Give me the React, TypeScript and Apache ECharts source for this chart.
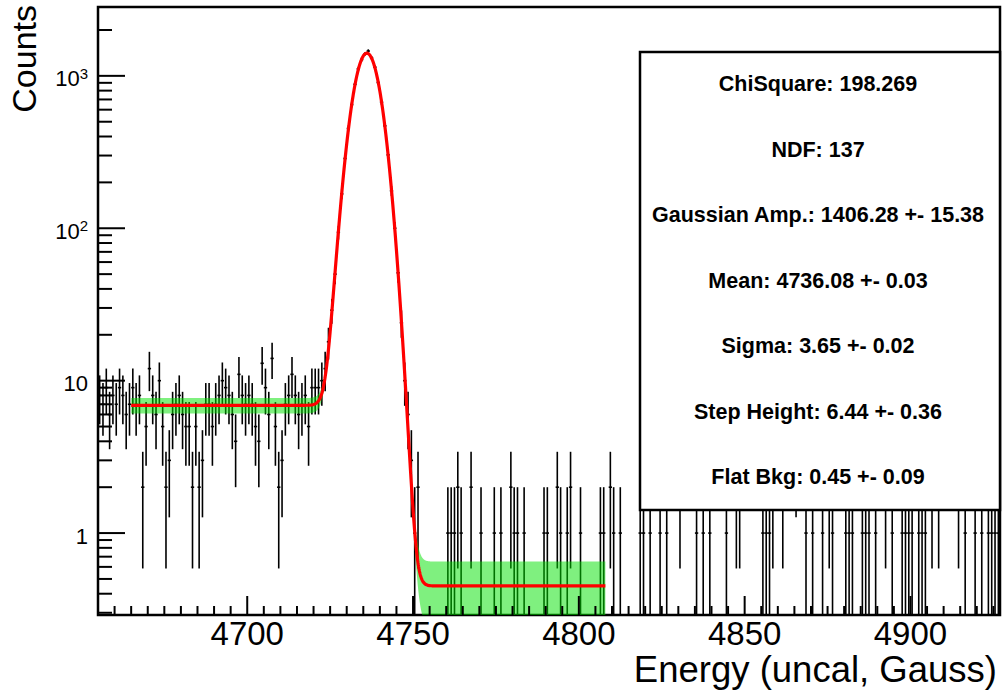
import React, { useEffect, useRef } from "react";
import * as echarts from "echarts";

// ---- Histogram: 1-channel bins starting at 4655 ----
const FIRST_BIN_EDGE = 4655;
const BIN_WIDTH = 1;

// Counts per bin, 4655 – 4720 (low-energy side)
const COUNTS_LOW = [
  8, 7, 9, 6, 8, 7, 9, 8, 6, 7,
  9, 7, 8, 2, 5, 12, 8, 6, 10, 5,
  2, 3, 6, 7, 8, 6, 5, 5, 2, 5,
  2, 3, 7, 7, 5, 7, 8, 10, 9, 8,
  6, 4, 11, 8, 7, 8, 7, 5, 4, 13,
  9, 6, 14, 5, 2, 3, 7, 8, 11, 8,
  6, 7, 8, 5, 9, 9,
];

// Counts per bin, 4721 – 4752 (peak)
const COUNTS_PEAK = [
  9, 10, 12, 18, 29, 50, 94, 168, 287, 452,
  648, 880, 1112, 1279, 1390, 1455, 1312, 1140, 905, 671,
  470, 303, 176, 100, 51, 24, 10, 6, 3, 1,
  2, 0,
];

// Counts per bin, 4753 – 4926 (high-energy side)
const COUNTS_HIGH = [
  0, 0, 0, 0, 0, 0, 0, 1, 1, 1,
  2, 1, 0, 0, 2, 0, 0, 1, 0, 0,
  0, 1, 0, 1, 0, 0, 2, 1, 1, 0,
  1, 0, 0, 0, 0, 0, 1, 1, 0, 0,
  2, 1, 0, 1, 2, 0, 0, 1, 0, 0,
  0, 0, 0, 1, 1, 0, 2, 1, 0, 1,
  0, 0, 0, 0, 0, 1, 1, 0, 1, 0,
  0, 1, 0, 1, 0, 0, 0, 2, 0, 0,
  0, 0, 1, 0, 1, 0, 1, 0, 0, 0,
  0, 1, 0, 0, 2, 2, 0, 0, 0, 0,
  0, 0, 1, 1, 1, 2, 0, 0, 2, 0,
  0, 0, 3, 0, 0, 1, 0, 1, 0, 0,
  1, 0, 2, 1, 0, 0, 0, 1, 1, 1,
  0, 0, 1, 1, 1, 0, 1, 0, 0, 2,
  0, 1, 0, 0, 1, 1, 1, 1, 0, 1,
  1, 1, 0, 2, 0, 2, 0, 0, 0, 0,
  0, 2, 0, 1, 0, 0, 1, 0, 1, 0,
  1, 1, 1, 1,
];

// ---- Fit result (Gaussian + step + flat background) ----
const FIT_LABELS = ["ChiSquare", "NDF", "Gaussian Amp.", "Mean", "Sigma", "Step Height", "Flat Bkg"];
const FIT_VALUES = [198.269, 137, 1406.28, 4736.08, 3.65, 6.44, 0.45];
const FIT_ERRORS = [null, null, 15.38, 0.03, 0.02, 0.36, 0.09];
const FIT_DECIMALS = [3, 0, 2, 2, 2, 2, 2];
const FIT_RANGE = [4665, 4808];
// half-width of the fit confidence band below / above the peak
const BAND_HALF_WIDTH_LOW_SIDE = 0.8;
const BAND_HALF_WIDTH_HIGH_SIDE = 0.2;

// ---- Axes ----
const X_MIN = 4655;
const X_MAX = 4927;
const Y_MIN = 0.29;
const Y_MAX = 2830;
const X_MAJOR_TICKS = [4700, 4750, 4800, 4850, 4900];
const X_MINOR_STEP = 5;
const Y_MAJOR_TICKS = [1, 10, 100, 1000];
const Y_TICK_LABELS = ["1", "10", "{b|10}{s|2}", "{b|10}{s|3}"];

const FONT = '"Liberation Sans", Arial, Helvetica, sans-serif';

function erfc(x: number): number {
  const z = Math.abs(x);
  const t = 1 / (1 + 0.5 * z);
  const r =
    t *
    Math.exp(
      -z * z - 1.26551223 +
        t * (1.00002368 + t * (0.37409196 + t * (0.09678418 + t * (-0.18628806 +
        t * (0.27886807 + t * (-1.13520398 + t * (1.48851587 + t * (-0.82215223 + t * 0.17087277))))))))
    );
  return x >= 0 ? r : 2 - r;
}

const AMP = FIT_VALUES[2];
const MEAN = FIT_VALUES[3];
const SIGMA = FIT_VALUES[4];
const STEP = FIT_VALUES[5];
const BKG = FIT_VALUES[6];

function stepFraction(x: number): number {
  return 0.5 * erfc((x - MEAN) / (Math.SQRT2 * SIGMA));
}

function fitFunction(x: number): number {
  const d = x - MEAN;
  return AMP * Math.exp(-(d * d) / (2 * SIGMA * SIGMA)) + STEP * stepFraction(x) + BKG;
}

function bandHalfWidth(x: number): number {
  return BAND_HALF_WIDTH_HIGH_SIDE + (BAND_HALF_WIDTH_LOW_SIDE - BAND_HALF_WIDTH_HIGH_SIDE) * stepFraction(x);
}

const ALL_COUNTS = [...COUNTS_LOW, ...COUNTS_PEAK, ...COUNTS_HIGH];

export default function App() {
  const ref = useRef<HTMLDivElement | null>(null);

  useEffect(() => {
    if (!ref.current) return;
    const chart = echarts.init(ref.current, null, { renderer: "svg" });

    const clampY = (v: number) => Math.max(v, Y_MIN);

    const binData = ALL_COUNTS.map((n, i) => {
      const center = FIRST_BIN_EDGE + (i + 0.5) * BIN_WIDTH;
      return [center, n, n - Math.sqrt(n), n + Math.sqrt(n)];
    }).filter((d) => d[1] > 0);

    const fitLine: number[][] = [];
    for (let x = FIT_RANGE[0]; x <= FIT_RANGE[1] + 1e-9; x += 0.1) {
      fitLine.push([x, fitFunction(x)]);
    }

    const statsTexts = FIT_LABELS.map((name, i) => {
      const v = FIT_VALUES[i].toFixed(FIT_DECIMALS[i]);
      const e = FIT_ERRORS[i];
      return e === null ? `${name}: ${v}` : `${name}: ${v} +- ${e.toFixed(FIT_DECIMALS[i])}`;
    });

    const boxX = 640;
    const boxY = 52;
    const boxW = 360;
    const boxH = 458;

    const option: any = {
      animation: false,
      backgroundColor: "#ffffff",
      grid: {
        left: 98,
        right: 2,
        top: 7,
        bottom: 75,
        show: true,
        borderColor: "#000",
        borderWidth: 2.5,
        backgroundColor: "transparent",
      },
      xAxis: {
        type: "value",
        min: X_MIN,
        max: X_MAX,
        axisLine: { show: false },
        axisTick: { show: false },
        axisLabel: { show: false },
        splitLine: { show: false },
      },
      yAxis: {
        type: "log",
        logBase: 10,
        min: Y_MIN,
        max: Y_MAX,
        axisLine: { show: false },
        axisTick: { show: false },
        axisLabel: { show: false },
        splitLine: { show: false },
      },
      series: [
        {
          name: "data",
          type: "custom",
          z: 2,
          clip: true,
          data: binData,
          renderItem: (_p: any, api: any) => {
            const xc = api.value(0);
            const n = api.value(1);
            const lo = clampY(api.value(2));
            const hi = api.value(3);
            const a = api.coord([xc, lo]);
            const b = api.coord([xc, hi]);
            const l = api.coord([xc - BIN_WIDTH / 2, n]);
            const r = api.coord([xc + BIN_WIDTH / 2, n]);
            return {
              type: "group",
              children: [
                { type: "line", shape: { x1: a[0], y1: a[1], x2: b[0], y2: b[1] }, style: { stroke: "#000", lineWidth: 1.6 } },
                { type: "line", shape: { x1: l[0], y1: l[1], x2: r[0], y2: r[1] }, style: { stroke: "#000", lineWidth: 1.6 } },
              ],
            };
          },
        },
        {
          name: "band",
          type: "custom",
          z: 3,
          clip: true,
          data: [[FIT_RANGE[0], 1]],
          renderItem: (_p: any, api: any) => {
            const pts: number[][] = [];
            for (let x = FIT_RANGE[0]; x <= FIT_RANGE[1] + 1e-9; x += 0.2) {
              pts.push(api.coord([x, clampY(fitFunction(x) + bandHalfWidth(x))]));
            }
            for (let x = FIT_RANGE[1]; x >= FIT_RANGE[0] - 1e-9; x -= 0.2) {
              pts.push(api.coord([x, clampY(fitFunction(x) - bandHalfWidth(x))]));
            }
            return { type: "polygon", shape: { points: pts }, style: { fill: "rgba(0,225,0,0.5)" } };
          },
        },
        {
          name: "fit",
          type: "line",
          z: 4,
          data: fitLine,
          showSymbol: false,
          clip: true,
          lineStyle: { color: "#ff0000", width: 3.2 },
        },
        {
          name: "ticks",
          type: "custom",
          z: 5,
          data: [[X_MIN, Y_MIN]],
          renderItem: (_p: any, api: any) => {
            const children: any[] = [];
            const origin = api.coord([X_MIN, Y_MIN]);
            for (let v = Math.ceil(X_MIN / X_MINOR_STEP) * X_MINOR_STEP; v <= X_MAX; v += X_MINOR_STEP) {
              const major = X_MAJOR_TICKS.includes(v);
              const px = api.coord([v, Y_MIN])[0];
              children.push({
                type: "line",
                shape: { x1: px, y1: origin[1], x2: px, y2: origin[1] - (major ? 19 : 9) },
                style: { stroke: "#000", lineWidth: 2 },
              });
            }
            for (let d = -1; d <= 3; d++) {
              for (let m = 1; m <= 9; m++) {
                const v = m * Math.pow(10, d);
                if (v < Y_MIN || v > Y_MAX) continue;
                const py = api.coord([X_MIN, v])[1];
                children.push({
                  type: "line",
                  shape: { x1: origin[0], y1: py, x2: origin[0] + (m === 1 ? 27 : 14), y2: py },
                  style: { stroke: "#000", lineWidth: 2 },
                });
              }
            }
            return { type: "group", children };
          },
        },
        {
          name: "tickLabels",
          type: "custom",
          z: 5,
          data: [[X_MIN, Y_MIN]],
          renderItem: (_p: any, api: any) => {
            const children: any[] = [];
            X_MAJOR_TICKS.forEach((v) => {
              const p = api.coord([v, Y_MIN]);
              children.push({
                type: "text",
                x: p[0],
                y: p[1] + 18.5,
                style: {
                  text: String(v),
                  fontSize: 33,
                  lineHeight: 28,
                  fontFamily: FONT,
                  fill: "#000",
                  align: "center",
                  verticalAlign: "middle",
                },
              });
            });
            Y_MAJOR_TICKS.forEach((v, i) => {
              const p = api.coord([X_MIN, v]);
              children.push({
                type: "text",
                x: p[0] - 10,
                y: p[1] + 3,
                style: {
                  text: Y_TICK_LABELS[i],
                  fontSize: 22,
                  fontFamily: FONT,
                  fill: "#000",
                  align: "right",
                  verticalAlign: "middle",
                  rich: {
                    b: { fontSize: 22, fontFamily: FONT, lineHeight: 26 },
                    s: { fontSize: 15, fontFamily: FONT, lineHeight: 15, verticalAlign: "top" },
                  },
                },
              });
            });
            return { type: "group", children };
          },
        },
      ],
      graphic: [
        {
          type: "text",
          x: 997,
          y: 669,
          z: 50,
          style: {
            text: "Energy (uncal, Gauss)",
            font: `36.5px ${FONT}`,
            lineHeight: 30,
            fill: "#000",
            align: "right",
            textAlign: "right",
            verticalAlign: "middle",
            textVerticalAlign: "middle",
          },
        },
        {
          type: "text",
          x: 24,
          y: 5,
          rotation: Math.PI / 2,
          z: 50,
          style: {
            text: "Counts",
            font: `34px ${FONT}`,
            fill: "#000",
            align: "right",
            textAlign: "right",
            verticalAlign: "middle",
            textVerticalAlign: "middle",
          },
        },
        {
          type: "rect",
          z: 100,
          shape: { x: boxX, y: boxY, width: boxW, height: boxH },
          style: { fill: "#fff", stroke: "#000", lineWidth: 2.5 },
        },
        ...statsTexts.map((t, i) => ({
          type: "text",
          z: 101,
          x: boxX + boxW / 2 - 2,
          y: boxY + 32 + i * 65.5,
          style: {
            text: t,
            font: `bold 21.5px ${FONT}`,
            fill: "#000",
            align: "center",
            textAlign: "center",
            verticalAlign: "middle",
            textVerticalAlign: "middle",
          },
        })),
      ],
    };

    chart.setOption(option);
    return () => chart.dispose();
  }, []);

  return (
    <div
      ref={ref}
      style={{ position: "fixed", left: 0, top: 0, width: 1002, height: 690, background: "#fff" }}
    />
  );
}
